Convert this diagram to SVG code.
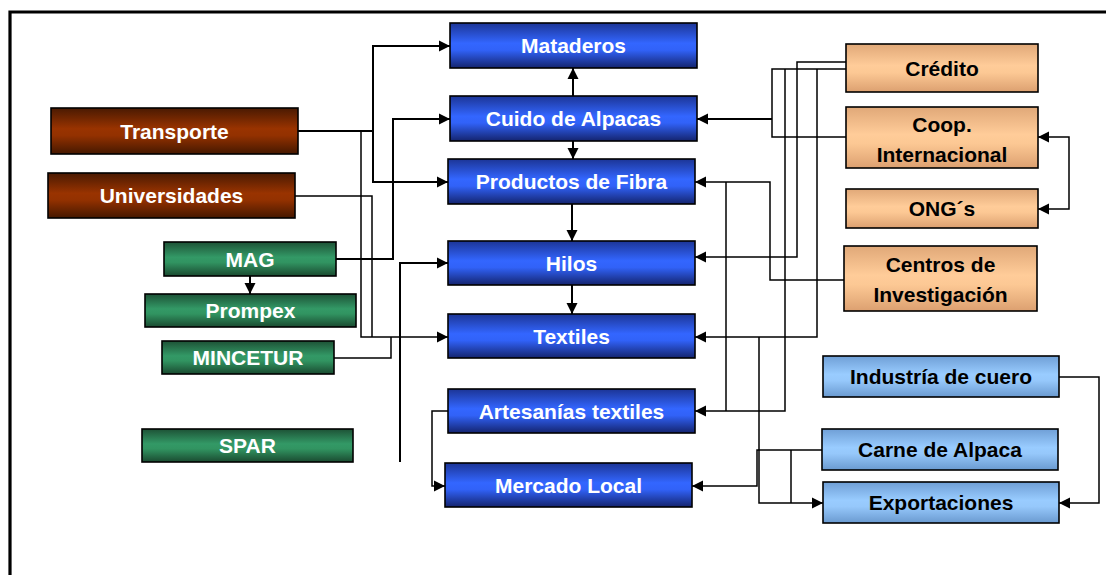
<svg xmlns="http://www.w3.org/2000/svg" width="1106" height="575" viewBox="0 0 1106 575">
<style>
text{font-family:"Liberation Sans",Arial,sans-serif;font-weight:bold;font-size:21px;text-anchor:middle}
.w{fill:#ffffff}
.k{fill:#000000}
.box{stroke:#000;stroke-width:1.6}
.c{fill:none;stroke:#000;stroke-width:2}
.t{fill:none;stroke:#000;stroke-width:1.5}
.a{marker-end:url(#ah)}
</style>
<defs>
<linearGradient id="gBlue" x1="0" y1="0" x2="0" y2="1">
<stop offset="0" stop-color="#1c3596"/><stop offset="0.45" stop-color="#3366ff"/><stop offset="0.6" stop-color="#3162f8"/><stop offset="1" stop-color="#14246e"/>
</linearGradient>
<linearGradient id="gBrown" x1="0" y1="0" x2="0" y2="1">
<stop offset="0" stop-color="#4a1a02"/><stop offset="0.45" stop-color="#993300"/><stop offset="0.6" stop-color="#933100"/><stop offset="1" stop-color="#451800"/>
</linearGradient>
<linearGradient id="gGreen" x1="0" y1="0" x2="0" y2="1">
<stop offset="0" stop-color="#1d5236"/><stop offset="0.45" stop-color="#339966"/><stop offset="0.6" stop-color="#319461"/><stop offset="1" stop-color="#1a4a30"/>
</linearGradient>
<linearGradient id="gOrange" x1="0" y1="0" x2="0" y2="1">
<stop offset="0" stop-color="#e0a878"/><stop offset="0.45" stop-color="#ffcc99"/><stop offset="0.6" stop-color="#fcc894"/><stop offset="1" stop-color="#dca070"/>
</linearGradient>
<linearGradient id="gLight" x1="0" y1="0" x2="0" y2="1">
<stop offset="0" stop-color="#6f9fd6"/><stop offset="0.45" stop-color="#99ccff"/><stop offset="0.6" stop-color="#96c8fb"/><stop offset="1" stop-color="#6a9ad0"/>
</linearGradient>
<marker id="ah" markerUnits="userSpaceOnUse" markerWidth="12" markerHeight="12" refX="11" refY="6" orient="auto">
<path d="M0,0.5 L11,6 L0,11.5 Z" fill="#000"/>
</marker>
<marker id="as" markerUnits="userSpaceOnUse" markerWidth="12" markerHeight="12" refX="1" refY="6" orient="auto">
<path d="M12,0.5 L1,6 L12,11.5 Z" fill="#000"/>
</marker>
</defs>
<rect width="1106" height="575" fill="#ffffff"/>
<g id="frame">
<path d="M10,575 V12 H1106" fill="none" stroke="#000" stroke-width="3.2"/>
</g>
<g id="connectors">
<path class="c a" d="M298,131 H373 V46 H450"/>
<path class="c a" d="M373,131 V182 H448"/>
<path class="t a" d="M361,131 V337 H448"/>
<path class="t" d="M295,196 H372 V337"/>
<path class="c a" d="M336,259 H393 V119 H450"/>
<path class="c a" d="M250,276 V294"/>
<path class="t" d="M334,358 H391 V337"/>
<path class="c a" d="M400,462 V263 H448"/>
<path class="t a" d="M448,411 H432 V486 H445"/>
<path class="c a" d="M573,96 V68"/>
<path class="c a" d="M573,141 V159"/>
<path class="c a" d="M572,204 V241"/>
<path class="c a" d="M572,285 V314"/>
<path class="t a" d="M846,62 H797 V257 H695"/>
<path class="t" d="M846,69 H772 V137 H846"/>
<path class="c a" d="M772,119 H697"/>
<path class="t a" d="M785,69 V411 H695"/>
<path class="t a" d="M817,69 V337 H695"/>
<path class="t a" d="M844,280 H770 V182 H695"/>
<path class="t" d="M726,182 V411"/>
<path class="t a" d="M759,337 V503 H823"/>
<path class="t a" d="M822,450 H757 V486 H692"/>
<path class="t" d="M791,450 V503"/>
<path class="t a" d="M1059,377 H1099 V503 H1059"/>
<path class="t a" d="M1038,137 H1069 V209 H1038" marker-start="url(#as)"/>
</g>
<g id="n-transporte"><rect class="box" x="51" y="108" width="247" height="46" fill="url(#gBrown)"/><text class="w" x="174.5" y="138.5">Transporte</text></g>
<g id="n-universidades"><rect class="box" x="48" y="173" width="247" height="45" fill="url(#gBrown)"/><text class="w" x="171.5" y="203">Universidades</text></g>
<g id="n-mag"><rect class="box" x="164" y="242" width="172" height="34" fill="url(#gGreen)"/><text class="w" x="250" y="266.5">MAG</text></g>
<g id="n-prompex"><rect class="box" x="145" y="294" width="211" height="33" fill="url(#gGreen)"/><text class="w" x="250.5" y="318">Prompex</text></g>
<g id="n-mincetur"><rect class="box" x="162" y="341" width="172" height="33" fill="url(#gGreen)"/><text class="w" x="248" y="365">MINCETUR</text></g>
<g id="n-spar"><rect class="box" x="142" y="429" width="211" height="33" fill="url(#gGreen)"/><text class="w" x="247.5" y="453">SPAR</text></g>
<g id="n-mataderos"><rect class="box" x="450" y="23" width="247" height="45" fill="url(#gBlue)"/><text class="w" x="573.5" y="53">Mataderos</text></g>
<g id="n-cuido"><rect class="box" x="450" y="96" width="247" height="45" fill="url(#gBlue)"/><text class="w" x="573.5" y="126">Cuido de Alpacas</text></g>
<g id="n-productos"><rect class="box" x="448" y="159" width="247" height="45" fill="url(#gBlue)"/><text class="w" x="571.5" y="189">Productos de Fibra</text></g>
<g id="n-hilos"><rect class="box" x="448" y="241" width="247" height="44" fill="url(#gBlue)"/><text class="w" x="571.5" y="270.5">Hilos</text></g>
<g id="n-textiles"><rect class="box" x="448" y="314" width="247" height="44" fill="url(#gBlue)"/><text class="w" x="571.5" y="343.5">Textiles</text></g>
<g id="n-artesanias"><rect class="box" x="448" y="389" width="247" height="44" fill="url(#gBlue)"/><text class="w" x="571.5" y="418.5">Artesanías textiles</text></g>
<g id="n-mercado"><rect class="box" x="445" y="463" width="247" height="44" fill="url(#gBlue)"/><text class="w" x="568.5" y="492.5">Mercado Local</text></g>
<g id="n-credito"><rect class="box" x="846" y="44" width="192" height="48" fill="url(#gOrange)"/><text class="k" x="942" y="75.5">Crédito</text></g>
<g id="n-coop"><rect class="box" x="846" y="107" width="192" height="61" fill="url(#gOrange)"/><text class="k" x="942" y="132">Coop.</text><text class="k" x="942" y="162">Internacional</text></g>
<g id="n-ong"><rect class="box" x="846" y="189" width="192" height="39" fill="url(#gOrange)"/><text class="k" x="942" y="216">ONG´s</text></g>
<g id="n-centros"><rect class="box" x="844" y="246" width="193" height="65" fill="url(#gOrange)"/><text class="k" x="940.5" y="272">Centros de</text><text class="k" x="940.5" y="302">Investigación</text></g>
<g id="n-industria"><rect class="box" x="823" y="356" width="236" height="41" fill="url(#gLight)"/><text class="k" x="941" y="384">Industría de cuero</text></g>
<g id="n-carne"><rect class="box" x="822" y="429" width="236" height="41" fill="url(#gLight)"/><text class="k" x="940" y="457">Carne de Alpaca</text></g>
<g id="n-exportaciones"><rect class="box" x="823" y="482" width="236" height="41" fill="url(#gLight)"/><text class="k" x="941" y="510">Exportaciones</text></g>
</svg>
